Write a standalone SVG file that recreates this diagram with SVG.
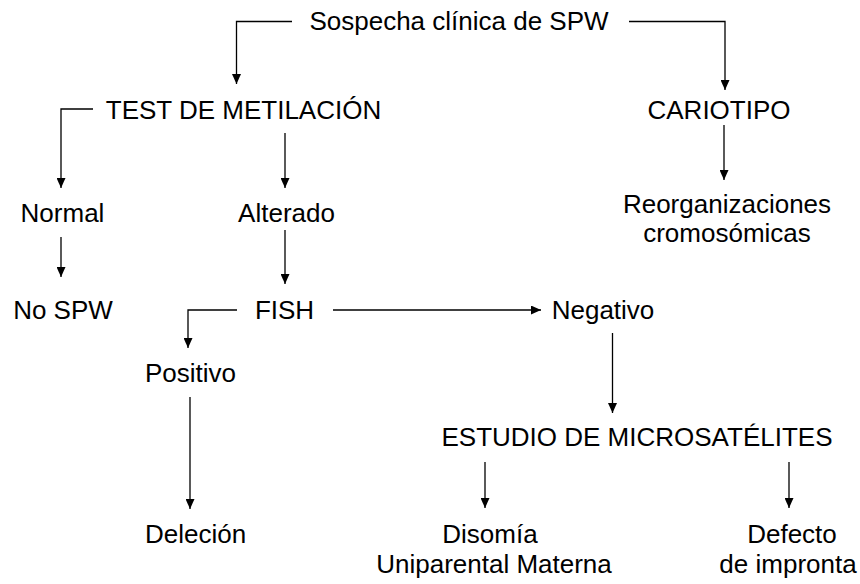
<svg xmlns="http://www.w3.org/2000/svg" width="860" height="584" viewBox="0 0 860 584">
<style>
text{font-family:"Liberation Sans",Arial,sans-serif;font-size:26px;fill:#000;text-anchor:middle}
.s{text-anchor:start}
.c{fill:none;stroke:#000;stroke-width:1.3}
</style>
<defs>
<marker id="ah" markerUnits="userSpaceOnUse" markerWidth="10" markerHeight="9" refX="10" refY="4.5" orient="auto">
<path d="M0,0 L10,4.5 L0,9 z" fill="#000"/>
</marker>
</defs>
<rect width="860" height="584" fill="#fff"/>
<g id="connectors">
<path class="c" d="M292,21.5 H236.5 V84" marker-end="url(#ah)"/>
<path class="c" d="M629,21.5 H725 V90" marker-end="url(#ah)"/>
<path class="c" d="M93,109 H61 V188" marker-end="url(#ah)"/>
<path class="c" d="M285,133 V188" marker-end="url(#ah)"/>
<path class="c" d="M61,237 V277" marker-end="url(#ah)"/>
<path class="c" d="M285,230 V284" marker-end="url(#ah)"/>
<path class="c" d="M237,310 H188 V348" marker-end="url(#ah)"/>
<path class="c" d="M333,310 H541" marker-end="url(#ah)"/>
<path class="c" d="M612.5,333 V413" marker-end="url(#ah)"/>
<path class="c" d="M190,397 V509" marker-end="url(#ah)"/>
<path class="c" d="M485,462 V508" marker-end="url(#ah)"/>
<path class="c" d="M789,462 V508" marker-end="url(#ah)"/>
<path class="c" d="M724,125 V180" marker-end="url(#ah)"/>
</g>
<g id="sospecha"><text x="459" y="30">Sospecha clínica de SPW</text></g>
<g id="test"><text x="243.5" y="118.5">TEST DE METILACIÓN</text></g>
<g id="cariotipo"><text x="719" y="118.5">CARIOTIPO</text></g>
<g id="normal"><text x="62.5" y="222">Normal</text></g>
<g id="alterado"><text x="286.5" y="222">Alterado</text></g>
<g id="reorganizaciones"><text x="727" y="213">Reorganizaciones</text><text x="727" y="242">cromosómicas</text></g>
<g id="nospw"><text x="63" y="318.5">No SPW</text></g>
<g id="fish"><text x="284.5" y="319">FISH</text></g>
<g id="negativo"><text x="603" y="319">Negativo</text></g>
<g id="positivo"><text class="s" x="145" y="382">Positivo</text></g>
<g id="microsatelites"><text x="637" y="446">ESTUDIO DE MICROSATÉLITES</text></g>
<g id="delecion"><text class="s" x="145" y="543">Deleción</text></g>
<g id="disomia"><text x="490" y="543">Disomía</text><text x="494" y="573">Uniparental Materna</text></g>
<g id="defecto"><text x="792" y="543">Defecto</text><text x="788" y="573">de impronta</text></g>
</svg>
